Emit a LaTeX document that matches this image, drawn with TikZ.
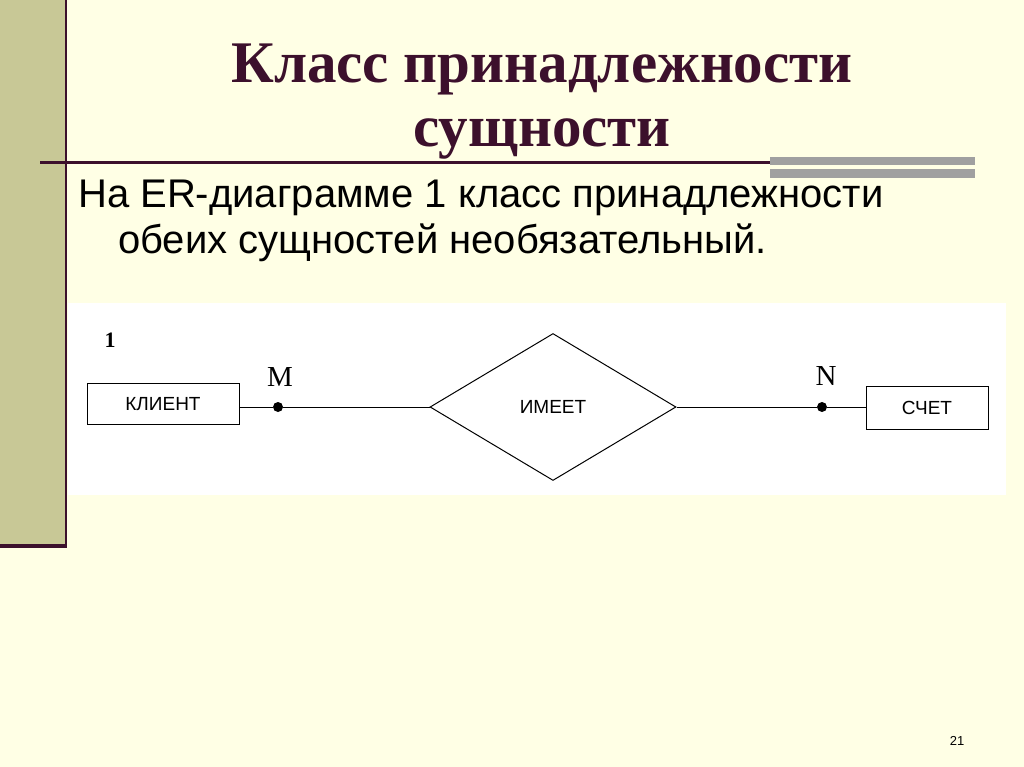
\documentclass[tikz,border=0pt]{standalone}
\usepackage{fontspec}
\setmainfont{Liberation Serif}
\setsansfont{Liberation Sans}
\usetikzlibrary{shapes.geometric}
\definecolor{bg}{RGB}{255,255,229}
\definecolor{bar}{RGB}{200,200,150}
\definecolor{maroon}{RGB}{60,16,44}
\definecolor{gbar}{RGB}{160,160,160}
\tikzset{ent/.style={draw,line width=1pt,minimum width=152pt,minimum height=41pt,font=\sffamily\fontsize{19}{19}\selectfont,inner sep=0pt},
dotn/.style={circle,fill=black,inner sep=0pt,minimum size=10pt},
lbl/.style={font=\fontsize{29}{29}\selectfont}}
\begin{document}
\begin{tikzpicture}[x=1pt,y=-1pt]
\useasboundingbox (0,0) rectangle (1024,767);
\fill[bg] (0,0) rectangle (1024,767);
\fill[bar] (0,0) rectangle (66,548);
\draw[maroon,line width=2pt] (66,0) -- (66,548);
\draw[maroon,line width=4pt] (0,546) -- (66,546);
\draw[maroon,line width=3pt] (40,163) -- (775,163);
\fill[gbar] (770,157) rectangle (975,165);
\fill[gbar] (770,169) rectangle (975,178);
\node[maroon,font=\bfseries\fontsize{59}{64}\selectfont,align=center] (title) at (542,102) {Класс принадлежности\\сущности};
\node[anchor=north west,font=\sffamily\fontsize{40}{46}\selectfont,align=left,inner sep=0pt] (body) at (78,180) {На ER-диаграмме 1 класс принадлежности\\\hspace*{40pt}обеих сущностей необязательный.};
\fill[white] (68,303) rectangle (1006,495);
\node[font=\bfseries\fontsize{22}{22}\selectfont] (one) at (110,340) {1};
\node[ent] (k) at (163,404) {КЛИЕНТ};
\node[ent,minimum width=122pt,minimum height=43pt] (s) at (927,408) {СЧЕТ};
\node[diamond,draw,line width=1pt,minimum width=246pt,minimum height=147pt,inner sep=0pt,aspect=1.67,font=\sffamily\fontsize{19}{19}\selectfont] (d) at (553,407) {ИМЕЕТ};
\node[dotn] (m) at (278,407) {};
\node[dotn] (n) at (822,407) {};
\node[lbl] (ml) at (280,377) {M};
\node[lbl] (nl) at (826,376) {N};
\draw[line width=1pt] (k.east |- m) -- (m) -- (d.west);
\draw[line width=1pt] (d.east) -- (n) -- (s.west |- n);
\node[font=\sffamily\fontsize{13}{13}\selectfont] (pg) at (957,741) {21};
\end{tikzpicture}
\end{document}
